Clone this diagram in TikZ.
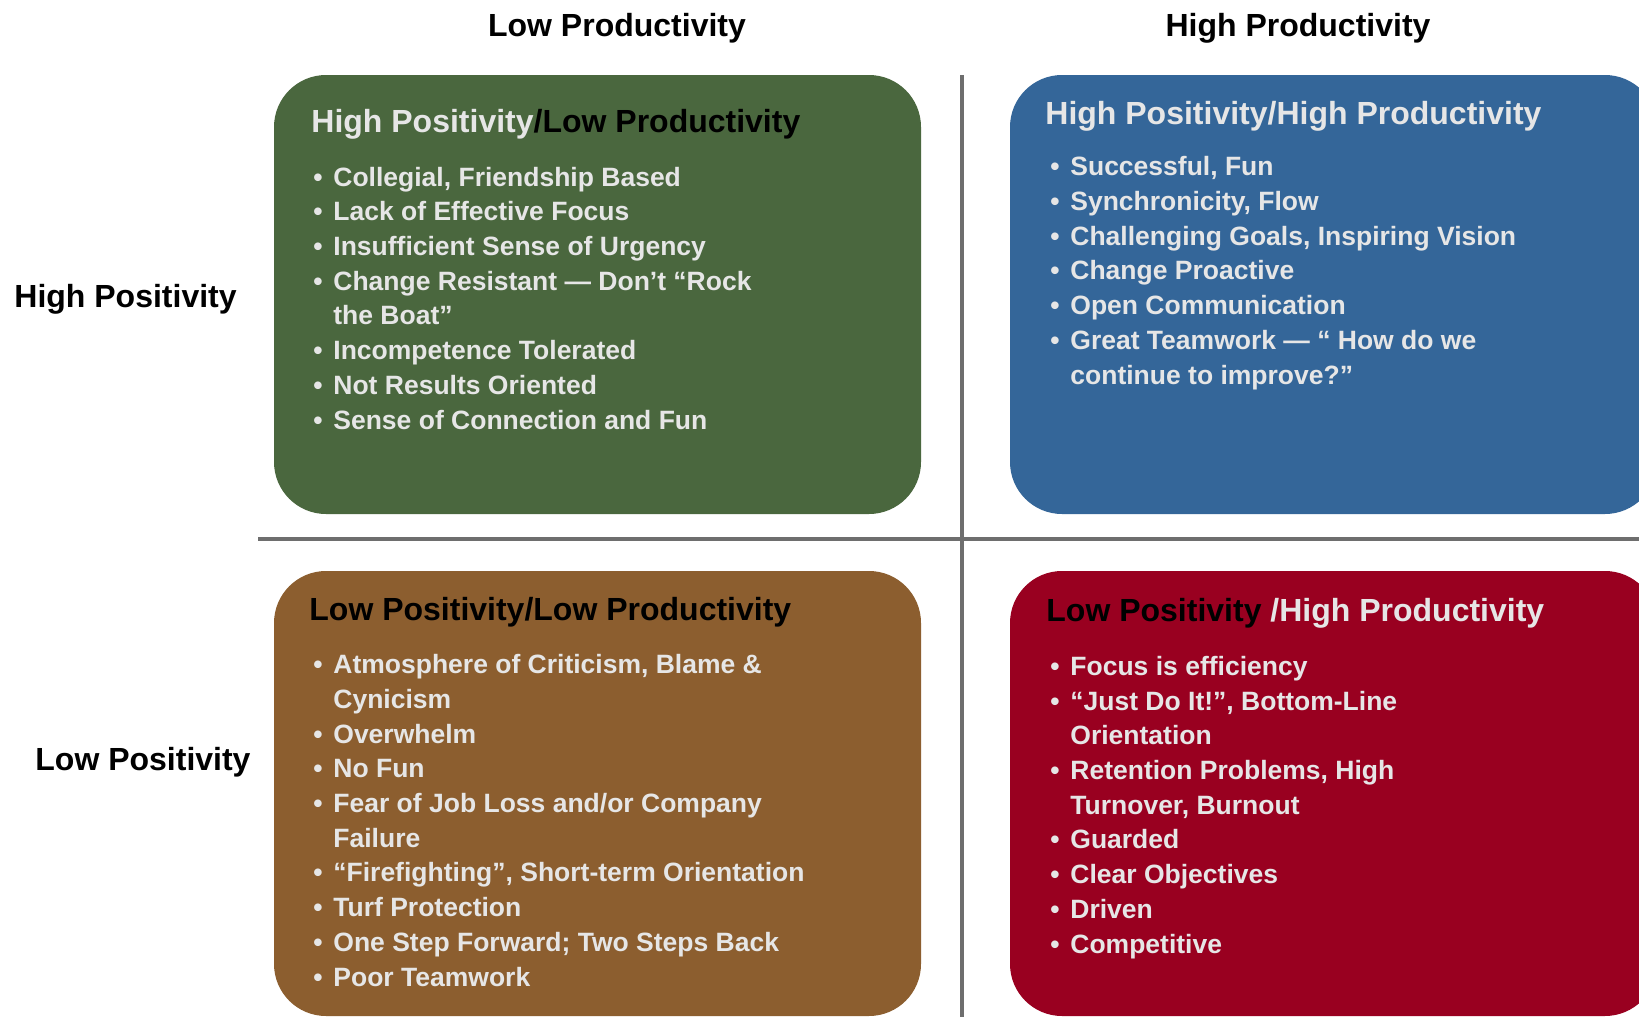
\documentclass[tikz,border=0pt]{standalone}
\usepackage{fontspec}
\setmainfont{Liberation Sans}
\usepackage{tikz}
\usetikzlibrary{positioning}
\usepackage{xcolor}

\definecolor{quadgreen}{HTML}{4A673E}
\definecolor{quadblue}{HTML}{346699}
\definecolor{quadbrown}{HTML}{8C5E2F}
\definecolor{quadred}{HTML}{990020}
\definecolor{quadtext}{HTML}{E6E6E6}
\definecolor{axisgray}{HTML}{6E6E6E}

\newcommand{\itm}{\makebox[10pt][l]{\textbullet}}
\newcommand{\cnt}{\hspace*{10pt}}

\begin{document}
\begin{tikzpicture}[x=0.5pt,y=-0.5pt,
  hdr/.style={font=\fontsize{16}{19}\selectfont\bfseries, inner sep=0pt},
  ttl/.style={font=\fontsize{16}{19}\selectfont\bfseries, inner sep=0pt, anchor=base west},
  lst/.style={font=\fontsize{13.25}{17.35}\selectfont\bfseries, text=quadtext,
    align=left, inner sep=0pt, anchor=base west},
  quad/.style={rounded corners=26pt},
  axis/.style={axisgray, line width=1.8pt}]
\clip (0,0) rectangle (1639,1017);
\fill[white] (0,0) rectangle (1639,1017);

% the four quadrants
\fill[quadgreen, quad] (274,75) rectangle (921,514);
\fill[quadblue, quad] (1010,75) rectangle (1657,514);
\fill[quadbrown, quad] (274,571) rectangle (921,1016);
\fill[quadred, quad] (1010,571) rectangle (1657,1016);

% axes
\coordinate (hl) at (258,539);
\coordinate (hr) at (1639,539);
\coordinate (vt) at (962,75);
\coordinate (vb) at (962,1017);
\draw[axis] (hl) -- (hr);
\draw[axis] (vt) -- (vb);

% column and row headings
\node[hdr, anchor=base] (colLow) at (617,36) {Low Productivity};
\node[hdr, anchor=base] (colHigh) at (1298,36) {High Productivity};
\node[hdr, anchor=base west] (rowHigh) at (14,307) {High Positivity};
\node[hdr, anchor=base west] (rowLow) at (35,770) {Low Positivity};

% lists sit on the baseline of their last line
% high positivity / low productivity
\node[ttl] (tGreen) at (311,132) {\textcolor{quadtext}{High Positivity}/Low Productivity};
\node[lst] (lGreen) at (313,429) {%
  \itm Collegial, Friendship Based\\
  \itm Lack of Effective Focus\\
  \itm Insufficient Sense of Urgency\\
  \itm Change Resistant — Don’t “Rock\\
  \cnt the Boat”\\
  \itm Incompetence Tolerated\\
  \itm Not Results Oriented\\
  \itm Sense of Connection and Fun};

% high positivity / high productivity
\node[ttl, text=quadtext] (tBlue) at (1045,124) {High Positivity/High Productivity};
\node[lst] (lBlue) at (1050,384) {%
  \itm Successful, Fun\\
  \itm Synchronicity, Flow\\
  \itm Challenging Goals, Inspiring Vision\\
  \itm Change Proactive\\
  \itm Open Communication\\
  \itm Great Teamwork — “ How do we\\
  \cnt continue to improve?”};

% low positivity / low productivity
\node[ttl] (tBrown) at (309,620) {Low Positivity/Low Productivity};
\node[lst] (lBrown) at (313,986) {%
  \itm Atmosphere of Criticism, Blame \&\\
  \cnt Cynicism\\
  \itm Overwhelm\\
  \itm No Fun\\
  \itm Fear of Job Loss and/or Company\\
  \cnt Failure\\
  \itm “Firefighting”, Short-term Orientation\\
  \itm Turf Protection\\
  \itm One Step Forward; Two Steps Back\\
  \itm Poor Teamwork};

% low positivity / high productivity
\node[ttl] (tRed) at (1046,621) {Low Positivity \textcolor{quadtext}{/High Productivity}};
\node[lst] (lRed) at (1050,953) {%
  \itm Focus is efficiency\\
  \itm “Just Do It!”, Bottom-Line\\
  \cnt Orientation\\
  \itm Retention Problems, High\\
  \cnt Turnover, Burnout\\
  \itm Guarded\\
  \itm Clear Objectives\\
  \itm Driven\\
  \itm Competitive};
\end{tikzpicture}
\end{document}
